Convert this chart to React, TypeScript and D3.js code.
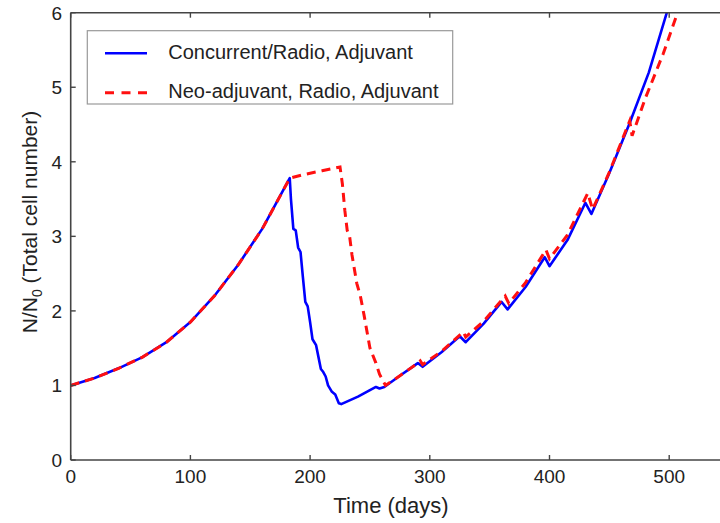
import React from "react";
import * as d3 from "d3";

const xTicks = [0, 100, 200, 300, 400, 500];
const yTicks = [0, 1, 2, 3, 4, 5, 6];

const blueDays = [
  0, 20, 40, 60, 80, 100, 120, 140, 160, 183,
  184, 186, 188, 190, 192, 194, 196, 198, 200, 202, 205, 207, 209, 211, 213, 215, 218, 221, 224, 226,
  240, 255, 258, 262, 275, 290, 294, 310, 325, 330, 345, 360, 365, 380, 396, 400, 415, 430, 435, 450, 467, 483, 498, 502,
];
const blueVals = [
  1.0, 1.1, 1.23, 1.38, 1.58, 1.85, 2.2, 2.62, 3.1, 3.78,
  3.5, 3.1, 3.08, 2.85, 2.79, 2.45, 2.12, 2.06, 1.85, 1.62, 1.54, 1.38, 1.22, 1.18, 1.12, 1.0, 0.92, 0.88, 0.76, 0.75,
  0.85, 0.98, 0.96, 0.98, 1.13, 1.3, 1.25, 1.45, 1.66, 1.58, 1.83, 2.12, 2.02, 2.32, 2.72, 2.6, 2.95, 3.45, 3.3, 3.85, 4.52, 5.2, 6.0, 6.2,
];

const redDays = [
  0, 20, 40, 60, 80, 100, 120, 140, 160, 183,
  195, 210, 225, 227, 229, 231, 233, 235, 239, 242, 245, 250, 255, 258, 263,
  275, 290, 292, 294, 310, 328, 330, 345, 363, 366, 380, 397, 400, 415, 432, 436, 450, 467, 469, 480, 495, 507, 511,
];
const redVals = [
  1.0, 1.1, 1.23, 1.38, 1.58, 1.85, 2.2, 2.62, 3.1, 3.78,
  3.83, 3.88, 3.93, 3.7, 3.35, 3.08, 3.0, 2.75, 2.37, 2.2, 1.95, 1.5, 1.3, 1.15, 1.0,
  1.13, 1.3, 1.33, 1.28, 1.46, 1.72, 1.65, 1.86, 2.2, 2.1, 2.38, 2.82, 2.7, 3.02, 3.58, 3.36, 3.86, 4.55, 4.35, 4.85, 5.45, 6.0, 6.2,
];

const legendLabels = ["Concurrent/Radio, Adjuvant", "Neo-adjuvant, Radio, Adjuvant"];

const W = 720;
const H = 523;
const X0 = 70.7;
const PX_PER_DAY = 1.197;
const YBOT = 460;
const YTOP = 12.7;

export default function App() {
  const x = d3.scaleLinear().domain([0, 600]).range([X0, X0 + 600 * PX_PER_DAY]);
  const y = d3.scaleLinear().domain([0, 6]).range([YBOT, YTOP]);
  const blue = blueDays.map((d, i) => [d, blueVals[i]] as [number, number]);
  const red = redDays.map((d, i) => [d, redVals[i]] as [number, number]);
  const line = d3
    .line<[number, number]>()
    .x((d) => x(d[0]))
    .y((d) => y(d[1]));
  const font = "'Liberation Sans', Arial, Helvetica, sans-serif";
  const axisColor = "#444";
  const xEnd = W + 5;

  return (
    <svg
      width={W}
      height={H}
      style={{ position: "absolute", left: 0, top: 0, background: "#fff" }}
      fontFamily={font}
    >
      <defs>
        <clipPath id="plot">
          <rect x={X0} y={YTOP} width={xEnd - X0} height={YBOT - YTOP} />
        </clipPath>
      </defs>
      <rect width={W} height={H} fill="#fff" />
      <g clipPath="url(#plot)">
        <path d={line(blue) ?? ""} fill="none" stroke="#0000ff" strokeWidth={2.6} strokeLinejoin="round" />
        <path d={line(red) ?? ""} fill="none" stroke="#ff1010" strokeWidth={3} strokeDasharray="9,6" />
      </g>
      <line x1={X0} x2={xEnd} y1={YBOT} y2={YBOT} stroke={axisColor} strokeWidth={1.6} />
      <line x1={X0} x2={xEnd} y1={YTOP} y2={YTOP} stroke={axisColor} strokeWidth={1.6} />
      <line x1={X0} x2={X0} y1={YTOP} y2={YBOT} stroke={axisColor} strokeWidth={1.6} />
      {xTicks.map((t) => (
        <g key={"x" + t}>
          <line x1={x(t)} x2={x(t)} y1={YBOT} y2={YBOT - 5} stroke={axisColor} strokeWidth={1.4} />
          <line x1={x(t)} x2={x(t)} y1={YTOP} y2={YTOP + 5} stroke={axisColor} strokeWidth={1.4} />
          <text x={x(t)} y={483} textAnchor="middle" fontSize={19} fill="#222">
            {t}
          </text>
        </g>
      ))}
      {yTicks.map((t) => (
        <g key={"y" + t}>
          <line x1={X0} x2={X0 + 5} y1={y(t)} y2={y(t)} stroke={axisColor} strokeWidth={1.4} />
          <text x={62} y={y(t) + 7} textAnchor="end" fontSize={19} fill="#222">
            {t}
          </text>
        </g>
      ))}
      <text x={391} y={513} textAnchor="middle" fontSize={22} fill="#222">
        Time (days)
      </text>
      <text
        transform={`translate(37, 222) rotate(-90)`}
        textAnchor="middle"
        fontSize={21}
        fill="#222"
      >
        N/N
        <tspan fontSize={14} dy={5}>0</tspan>
        <tspan dy={-5}> (Total cell number)</tspan>
      </text>
      <rect x={87.3} y={30.7} width={365.4} height={73.3} fill="#fff" stroke="#999" strokeWidth={1.2} />
      <line x1={105} x2={147} y1={53.3} y2={53.3} stroke="#0000ff" strokeWidth={2.6} />
      <line x1={105} x2={147} y1={92.7} y2={92.7} stroke="#ff1010" strokeWidth={3} strokeDasharray="9,7.5" />
      <text x={168.3} y={58.5} fontSize={20} fill="#222">
        {legendLabels[0]}
      </text>
      <text x={168.3} y={97.5} fontSize={20} fill="#222">
        {legendLabels[1]}
      </text>
    </svg>
  );
}
